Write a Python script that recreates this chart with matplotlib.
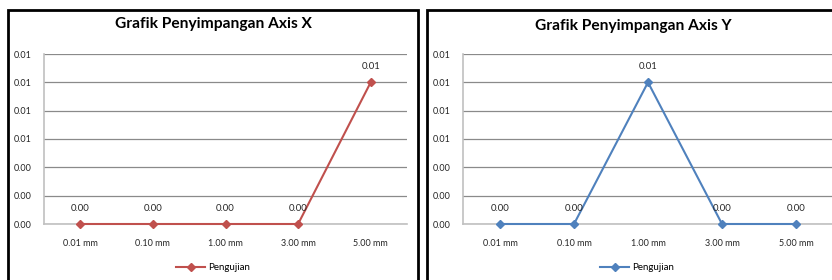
import numpy as np
import matplotlib
matplotlib.use('Agg')
import matplotlib.pyplot as plt
from matplotlib.patches import Rectangle

categories = ['0.01 mm', '0.10 mm', '1.00 mm', '3.00 mm', '5.00 mm']
x_values = [0.0, 0.0, 0.0, 0.0, 0.01]
y_values = [0.0, 0.0, 0.01, 0.0, 0.0]
yticks = [0.0, 0.002, 0.004, 0.006, 0.008, 0.010, 0.012]
series_name = 'Pengujian'

plt.rcParams['font.family'] = ['Lato', 'DejaVu Sans']

W, H = 832, 280
fig = plt.figure(figsize=(W / 100, H / 100), dpi=100)


def px(x0, y0, x1, y1):
    # pixel box (top-left origin) -> figure fraction
    return [x0 / W, 1 - y1 / H, (x1 - x0) / W, (y1 - y0) / H]


def panel(ax_box, frame_box, title, title_xy, legend_xy, values, color):
    fx0, fy0, fx1, fy1 = frame_box
    fig.patches.append(Rectangle((fx0 / W, 1 - fy1 / H), (fx1 - fx0) / W, (fy1 - fy0) / H,
                                 transform=fig.transFigure, fill=False,
                                 edgecolor='black', lw=2))
    ax = fig.add_axes(px(*ax_box))
    xs = np.arange(len(categories))
    line, = ax.plot(xs, values, '-D', color=color, lw=1.5, ms=4.5, label=series_name,
                    clip_on=False, zorder=3)
    for x, v in zip(xs, values):
        ax.annotate(f'{v:.2f}', (x, v), xytext=(0, 8), textcoords='offset points',
                    ha='center', va='bottom', fontsize=6.8, color='#262626')
    ax.set_xlim(-0.5, len(categories) - 0.5)
    ax.set_ylim(0, 0.012)
    ax.set_yticks(yticks)
    ax.set_yticklabels([f'{t:.2f}' for t in yticks])
    ax.set_xticks(xs)
    ax.set_xticklabels(categories)
    ax.tick_params(axis='both', labelsize=6.5, colors='#262626', length=0)
    ax.tick_params(axis='x', pad=11)
    ax.tick_params(axis='y', pad=9)
    ax.grid(axis='y', color='#8a8a8a', lw=0.9)
    ax.set_axisbelow(True)
    for s in ['top', 'right']:
        ax.spines[s].set_visible(False)
    for s in ['left', 'bottom']:
        ax.spines[s].set_color('#c0c0c0')
        ax.spines[s].set_linewidth(1.2)
    fig.text(title_xy[0] / W, 1 - title_xy[1] / H, title, ha='center', va='center',
             fontsize=11.2, fontweight='bold')
    fig.legend(handles=[line], loc='center', bbox_to_anchor=(legend_xy[0] / W, 1 - legend_xy[1] / H),
               frameon=False, fontsize=7, handlelength=3, handletextpad=0.3,
               markerscale=0.9)
    return ax


panel((44, 54, 407, 224), (8, 10, 418, 300), 'Grafik Penyimpangan Axis X',
      (213, 24), (213, 268), x_values, '#C0504D')
panel((463, 54, 833, 224), (427, 10, 860, 300), 'Grafik Penyimpangan Axis Y',
      (633, 26), (637, 268), y_values, '#4F81BD')

fig.savefig('out.png', dpi=100)
